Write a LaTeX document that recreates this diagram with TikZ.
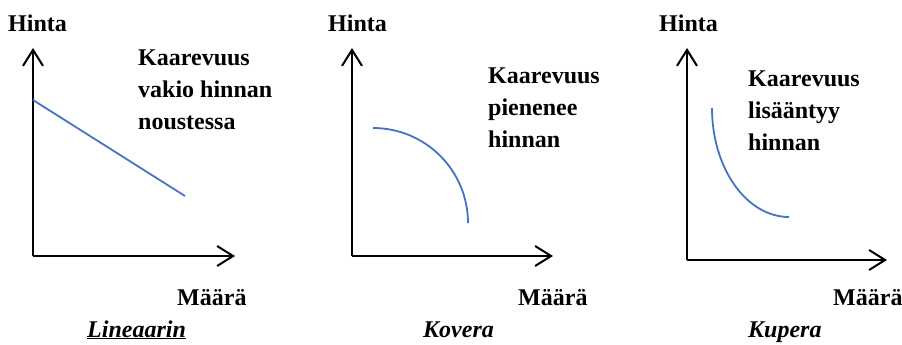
\documentclass[tikz,border=0pt]{standalone}
\usepackage{fontspec}
\setmainfont{Liberation Serif}
\usepackage{xcolor}
\usepackage{tikz}
\usetikzlibrary{arrows.meta}
\definecolor{curveblue}{RGB}{68,114,196}
\tikzset{
	axis/.style={line width=2pt, -{Straight Barb[length=16pt, width=20pt, line width=2pt]}},
	curve/.style={curveblue, line width=1.8pt},
	label/.style={anchor=base west, inner sep=0, font=\fontsize{24}{32}\selectfont\bfseries},
	note/.style={anchor=base west, inner sep=0, align=left, font=\fontsize{24}{32}\selectfont\bfseries},
	title/.style={anchor=base west, inner sep=0, font=\fontsize{24}{32}\selectfont\bfseries\itshape}
}

\begin{document}
\begin{tikzpicture}[x=1pt, y=-1pt]
	\useasboundingbox (0, 0) rectangle (902, 345);
	% Axes:
	\coordinate (o1) at (33, 256);
	\coordinate (y1) at (33, 48);
	\coordinate (x1) at (235, 256);
	\coordinate (o2) at (352, 256);
	\coordinate (y2) at (352, 48);
	\coordinate (x2) at (553, 256);
	\coordinate (o3) at (687, 260);
	\coordinate (y3) at (687, 48);
	\coordinate (x3) at (887, 260);
	\draw[axis] (o1) -- (y1);
	\draw[axis] (o1) -- (x1);
	\draw[axis] (o2) -- (y2);
	\draw[axis] (o2) -- (x2);
	\draw[axis] (o3) -- (y3);
	\draw[axis] (o3) -- (x3);
	% Curves:
	\coordinate (la) at (33, 100);
	\coordinate (lb) at (185, 196);
	\draw[curve] (la) -- (lb);
	\coordinate (ka) at (373, 128);
	\coordinate (kb) at (468, 223);
	\draw[curve] (ka) .. controls (425.5, 128) and (468, 170.5) .. (kb);
	\coordinate (pa) at (712, 108);
	\coordinate (pb) at (789, 217);
	\draw[curve] (pa) .. controls (712, 168.2) and (746.5, 217) .. (pb);
	% Labels (notes sit on their last baseline):
	\node[label] (hinta1) at (8, 32) {Hinta};
	\node[label] (hinta2) at (328, 32) {Hinta};
	\node[label] (hinta3) at (659, 32) {Hinta};
	\node[label] (maara1) at (177, 305) {Määrä};
	\node[label] (maara2) at (518, 305) {Määrä};
	\node[label] (maara3) at (833, 305) {Määrä};
	\node[note] (note1) at (138, 129) {Kaarevuus\\vakio hinnan\\noustessa};
	\node[note] (note2) at (488, 147) {Kaarevuus\\pienenee\\hinnan};
	\node[note] (note3) at (748, 150) {Kaarevuus\\lisääntyy\\hinnan};
	\node[title] (lin) at (87, 337) {\underline{Lineaarin}};
	\node[title] (kov) at (423, 337) {Kovera};
	\node[title] (kup) at (748, 337) {Kupera};
\end{tikzpicture}
\end{document}
